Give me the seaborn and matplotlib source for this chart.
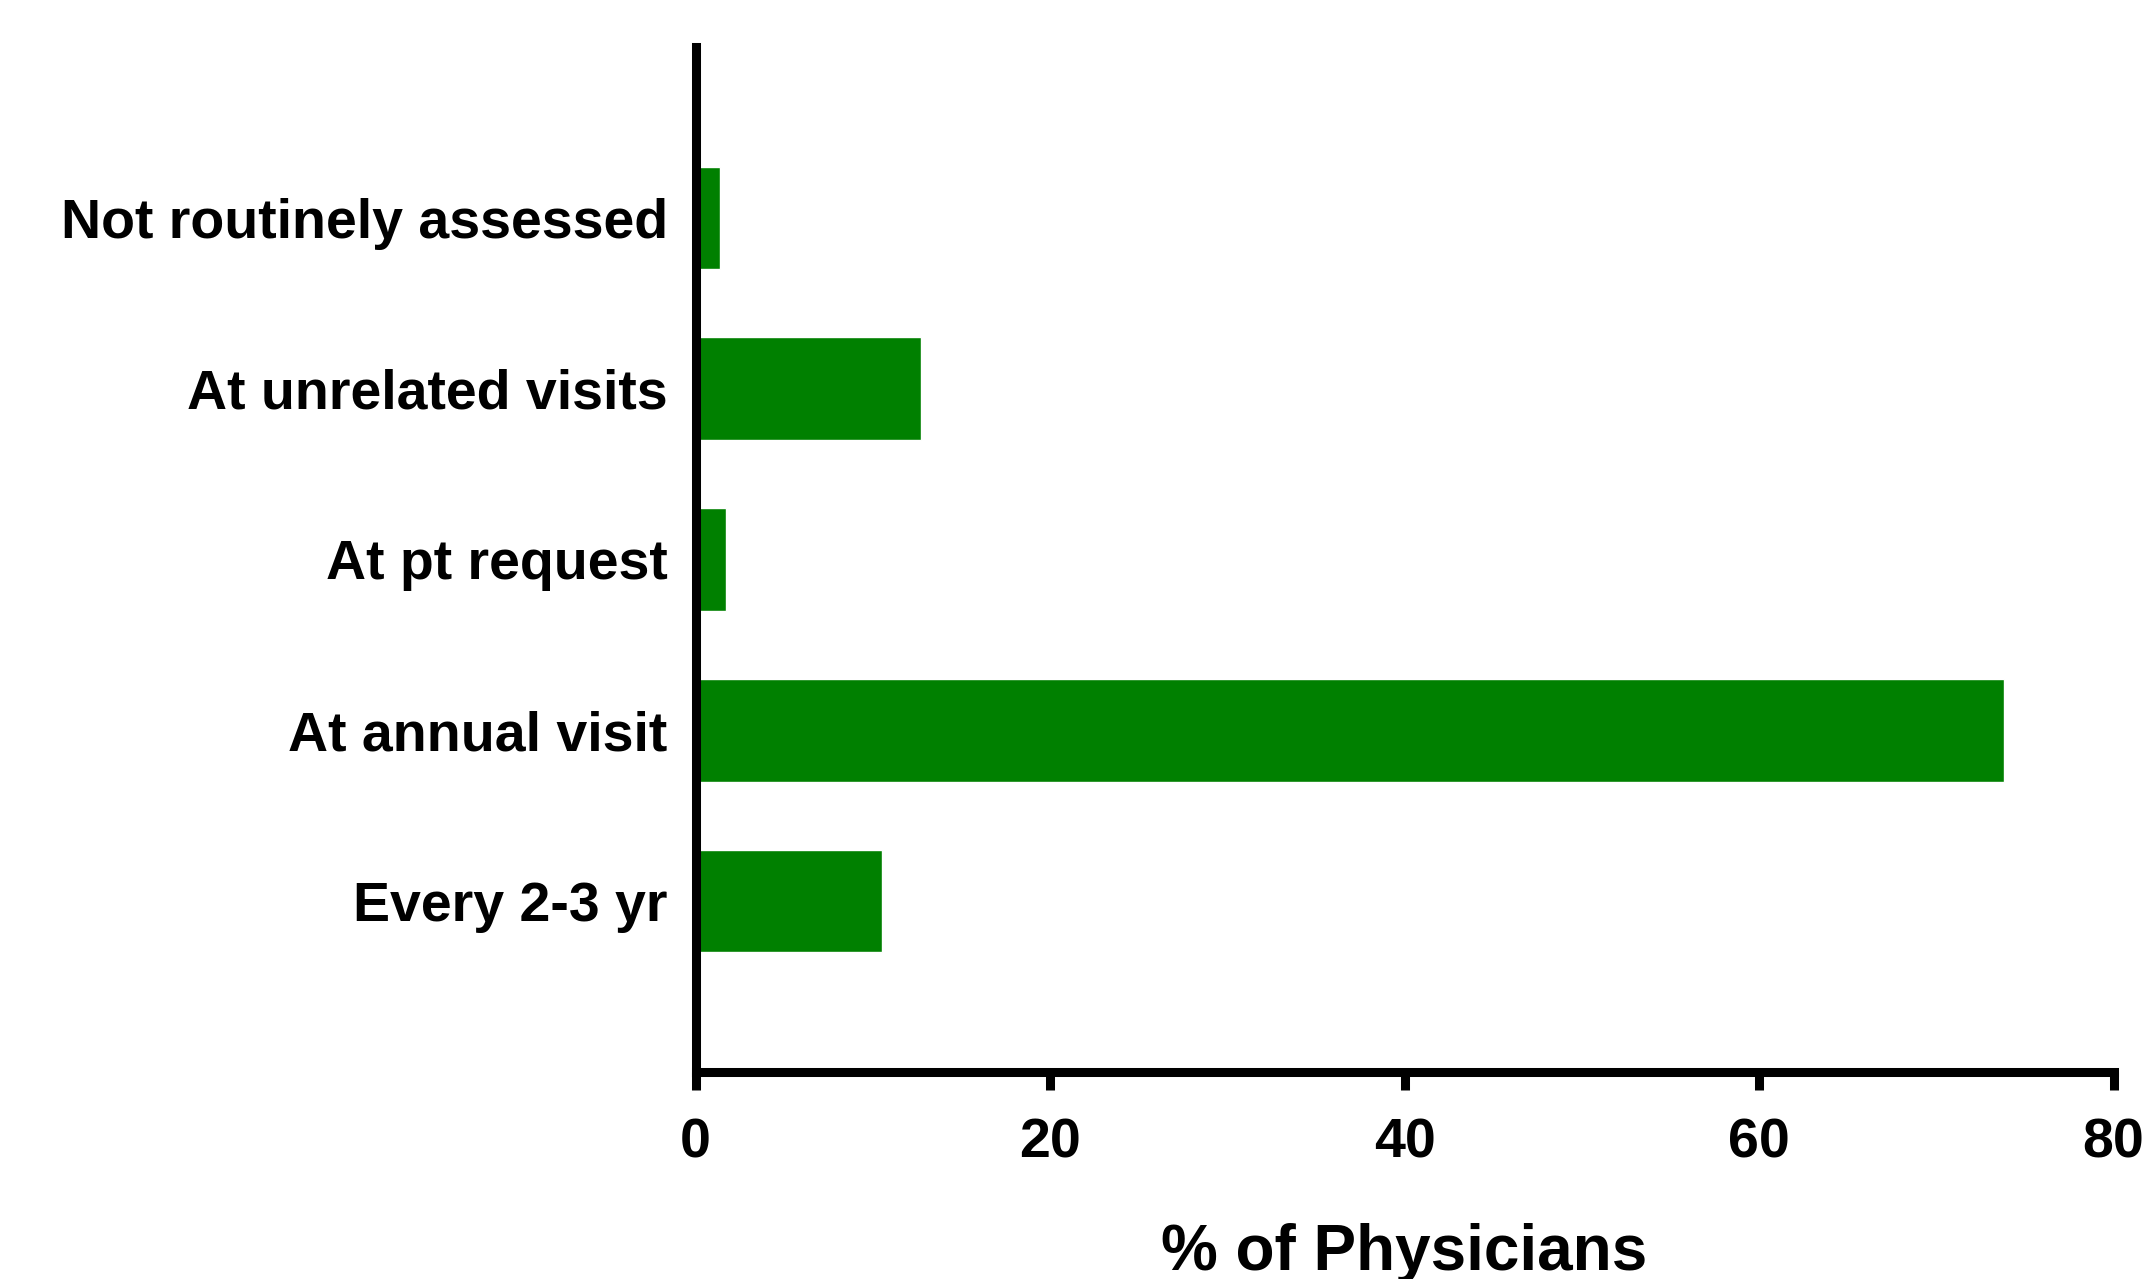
import pandas as pd
import numpy as np

import matplotlib
matplotlib.use("Agg")
import matplotlib.pyplot as plt
import seaborn as sns
sns.set_style("ticks")
plt.rcParams['font.family'] = ['Liberation Sans', 'DejaVu Sans']
plt.rcParams['font.weight'] = 'bold'
plt.rcParams['text.color'] = 'black'
plt.rcParams['axes.labelcolor'] = 'black'
plt.rcParams['xtick.color'] = 'black'
plt.rcParams['ytick.color'] = 'black'

###data
categories = ['Not routinely assessed', 'At unrelated visits', 'At pt request',
              'At annual visit', 'Every 2-3 yr']
pct_physicians = [1.4, 12.7, 1.7, 73.8, 10.5]
x_ticks = [0, 20, 40, 60, 80]

df = pd.DataFrame({'freq': categories, 'pct': pct_physicians})

fig = plt.figure(figsize=(21.42, 12.79), dpi=100)
ax = fig.add_axes([0.3247, 0.1618, 0.9867 - 0.3247, 0.9633 - 0.1618])

sns.barplot(data=df, x='pct', y='freq', order=categories, orient='h',
            color='#008000', saturation=1, width=0.6, ax=ax)

#axis styling, prism-like
ax.set_xlim(0, 80)
ax.set_ylim(len(categories), -1)
ax.set_xticks(x_ticks)
ax.set_xticklabels([str(t) for t in x_ticks], fontsize=40, fontweight='bold', color='black')
ax.set_yticklabels(categories, fontsize=40, fontweight='bold', color='black')
ax.tick_params(axis='x', length=13, width=6.5, pad=20, color='black')
ax.tick_params(axis='y', length=0, pad=20)

for side in ['top', 'right']:
    ax.spines[side].set_visible(False)
for side in ['left', 'bottom']:
    ax.spines[side].set_linewidth(6.5)
    ax.spines[side].set_color('black')
ax.spines['bottom'].set_capstyle('projecting')

ax.set_ylabel('')
ax.set_xlabel('% of Physicians', fontsize=46, fontweight='bold', labelpad=38, color='black')

fig.savefig('out.png', dpi=100)
